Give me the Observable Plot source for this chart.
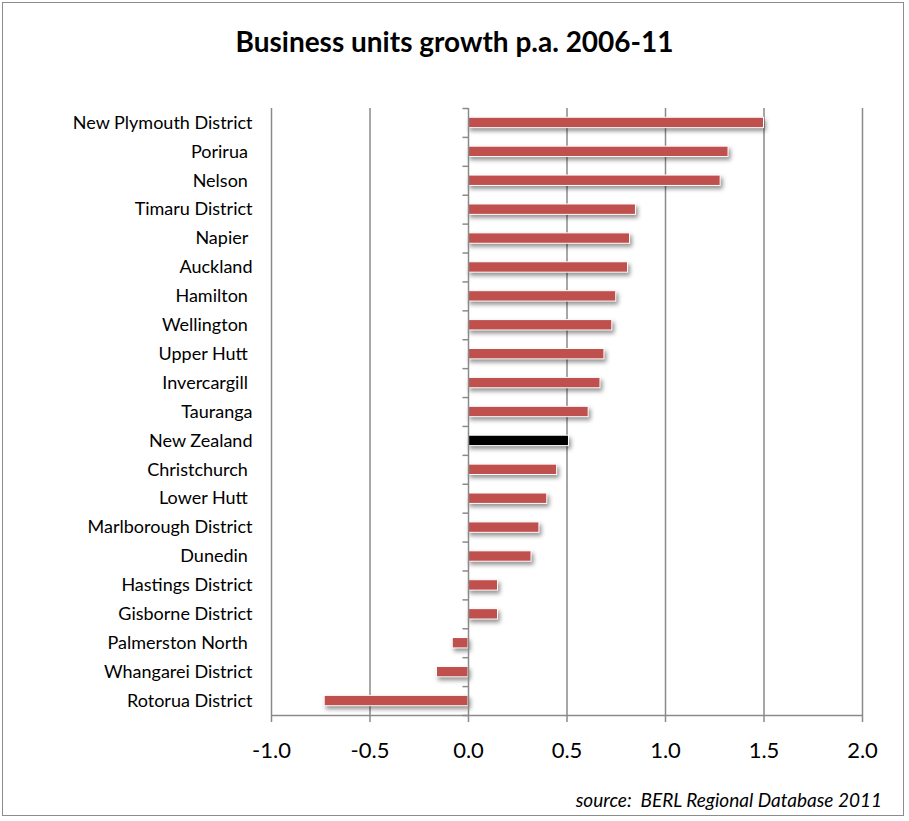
<!DOCTYPE html>
<html>
<head>
<meta charset="utf-8">
<script src="https://cdn.jsdelivr.net/npm/d3@7"></script>
<script src="https://cdn.jsdelivr.net/npm/@observablehq/plot@0.6"></script>
<style>
  body { margin: 0; background: white; font-family: Lato, "Open Sans", sans-serif; }
  #frame { position: absolute; left: 2px; top: 2px; width: 902px; height: 814px; border: 1.5px solid #8c8c8c; box-sizing: border-box; }
  #title { position: absolute; left: 0; width: 909px; top: 27px; text-align: center; font-weight: bold; font-size: 28px; line-height: 28px; color: #000; }
  #chart { position: absolute; left: 0; top: 90px; }
  #caption { position: absolute; right: 27px; top: 790px; font-style: italic; font-size: 19px; line-height: 19px; color: #000; white-space: pre; }
  svg text { white-space: pre; }
  g[aria-label="bar"] rect { filter: drop-shadow(2px 3px 2px rgba(0,0,0,0.42)); }
</style>
</head>
<body>
<div id="frame"></div>
<div id="title">Business units growth p.a. 2006-11</div>
<div id="chart"></div>
<div id="caption">source:  BERL Regional Database 2011</div>
<script>
const regions = [
  "New Plymouth District", "Porirua ", "Nelson ", "Timaru District", "Napier ",
  "Auckland", "Hamilton ", "Wellington ", "Upper Hutt ", "Invercargill ",
  "Tauranga", "New Zealand", "Christchurch ", "Lower Hutt ", "Marlborough District",
  "Dunedin ", "Hastings District", "Gisborne District", "Palmerston North ",
  "Whangarei District", "Rotorua District"
];
const growth = [
  1.50, 1.32, 1.28, 0.85, 0.82,
  0.81, 0.75, 0.73, 0.69, 0.67,
  0.61, 0.51, 0.45, 0.40, 0.36,
  0.32, 0.15, 0.15, -0.08,
  -0.16, -0.73
];
const highlight = "New Zealand";
const xTicks = [-1.0, -0.5, 0.0, 0.5, 1.0, 1.5, 2.0];
const gridTicks = [-1.0, -0.5, 0.5, 1.0, 1.5, 2.0];

const data = regions.map((r, i) => ({region: r, value: growth[i]}));

const W = 909, H = 680, mT = 18, mB = 55, mL = 271, mR = 47;
const step = (H - mT - mB) / regions.length;
const gray = "#8a8a8a";

const chart = Plot.plot({
  width: W, height: H,
  marginLeft: mL, marginRight: mR, marginTop: mT, marginBottom: mB,
  style: {fontFamily: "Lato, 'Open Sans', sans-serif", background: "transparent", color: "black"},
  x: {domain: [-1, 2], label: null},
  y: {domain: regions, paddingInner: 0.64, paddingOuter: 0.32, round: false, label: null},
  color: {type: "identity"},
  marks: [
    Plot.ruleX(gridTicks, {stroke: gray, strokeWidth: 1.5}),
    Plot.barX(data, {
      x: "value", y: "region",
      fill: d => d.region === highlight ? "black" : "#C0504D",
      stroke: "white", strokeWidth: 1
    }),
    Plot.ruleX([0], {stroke: gray, strokeWidth: 1.5}),
    Plot.ruleY(regions, {y: d => d, x1: -0.028, x2: 0, dy: step / 2, stroke: gray, strokeWidth: 1.5}),
    Plot.ruleY(regions.slice(0, 1), {y: d => d, x1: -0.028, x2: 0, dy: -step / 2, stroke: gray, strokeWidth: 1.5}),
    Plot.ruleY(regions.slice(-1), {y: d => d, x1: -1, x2: 2, dy: step / 2, stroke: gray, strokeWidth: 1.5}),
    Plot.axisX({ticks: xTicks, tickFormat: d => d.toFixed(1), tickSize: 7, tickPadding: 20, fontSize: 22, stroke: gray, strokeWidth: 1.5, label: null}),
    Plot.axisY({tickSize: 0, tickPadding: 19, fontSize: 18, label: null})
  ]
});
document.getElementById("chart").appendChild(chart);
</script>
</body>
</html>
